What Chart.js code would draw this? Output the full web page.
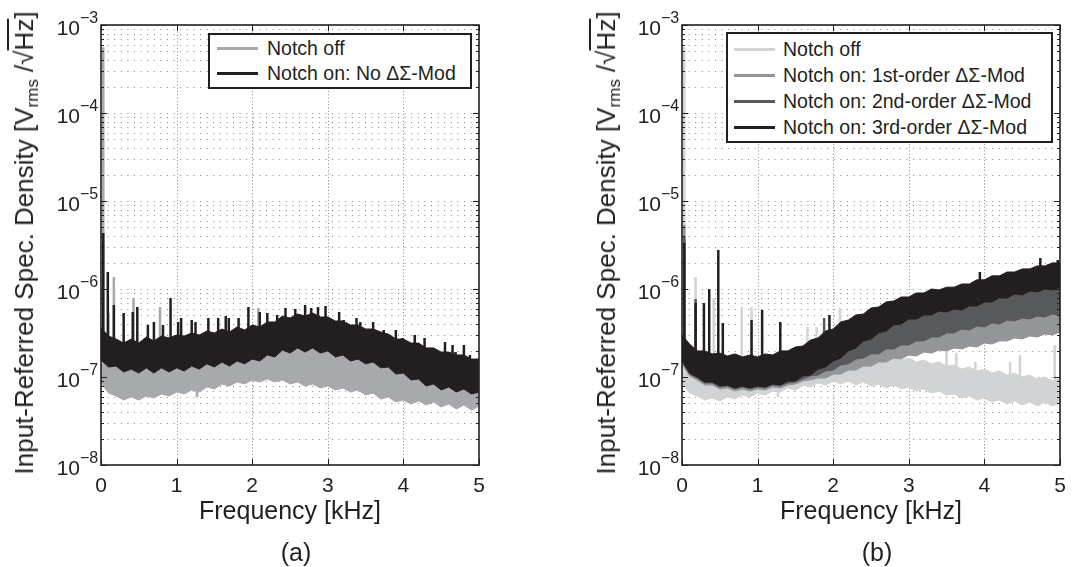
<!DOCTYPE html>
<html>
<head>
<meta charset="utf-8">
<script src="https://cdn.jsdelivr.net/npm/chart.js@4"></script>
<style>
  body { margin: 0; background: #fff; }
  #wrap { position: relative; width: 1088px; height: 567px; overflow: hidden;
          font-family: "Liberation Sans", Arial, Helvetica, sans-serif; color: #231f20; }
  canvas { position: absolute; top: 0; }
  .ylab { position: absolute; white-space: nowrap; font-size: 26px; line-height: 1;
          transform: translate(-50%, -50%) rotate(-90deg); }
  .ylab sub { font-size: 17px; vertical-align: -5px; }
  .ylab .rt { text-decoration: overline; }
  .xlab { position: absolute; white-space: nowrap; font-size: 25px; line-height: 1;
          transform: translate(-50%, -50%); }
  .legend { position: absolute; box-sizing: border-box; border: 2px solid #231f20; background: #fff; }
  .row { position: absolute; left: 0; right: 0; height: 24px; margin-top: -12px;
         display: flex; align-items: center; font-size: 19.5px; white-space: nowrap; }
  .sw { display: inline-block; width: 41px; height: 3px; }
</style>
</head>
<body>
<div id="wrap">
  <canvas id="chartA" width="544" height="567" style="left:0"></canvas>
  <canvas id="chartB" width="544" height="567" style="left:544px"></canvas>

  <div class="ylab" style="left:26px;top:243px">Input-Referred Spec. Density [V<sub>rms</sub> /√<span class="rt">Hz</span>]</div>
  <div class="ylab" style="left:608px;top:243px">Input-Referred Spec. Density [V<sub>rms</sub> /√<span class="rt">Hz</span>]</div>
  <div class="xlab" style="left:290px;top:510px">Frequency [kHz]</div>
  <div class="xlab" style="left:871px;top:510px">Frequency [kHz]</div>
  <div class="xlab" style="left:296px;top:552px">(a)</div>
  <div class="xlab" style="left:877px;top:552px">(b)</div>

  <div class="legend" style="left:208px;top:33px;width:264px;height:56px">
    <div class="row" style="top:13px"><span class="sw" style="margin-left:7px;background:#a7a9ac"></span><span style="margin-left:9px">Notch off</span></div>
    <div class="row" style="top:38px"><span class="sw" style="margin-left:7px;background:#231f20"></span><span style="margin-left:9px">Notch on: No ΔΣ-Mod</span></div>
  </div>
  <div class="legend" style="left:726px;top:32px;width:327px;height:111px">
    <div class="row" style="top:15px"><span class="sw" style="margin-left:6px;background:#d1d3d4"></span><span style="margin-left:8px">Notch off</span></div>
    <div class="row" style="top:41px"><span class="sw" style="margin-left:6px;background:#939598"></span><span style="margin-left:8px">Notch on: 1st-order ΔΣ-Mod</span></div>
    <div class="row" style="top:67px"><span class="sw" style="margin-left:6px;background:#58595b"></span><span style="margin-left:8px">Notch on: 2nd-order ΔΣ-Mod</span></div>
    <div class="row" style="top:93px"><span class="sw" style="margin-left:6px;background:#231f20"></span><span style="margin-left:8px">Notch on: 3rd-order ΔΣ-Mod</span></div>
  </div>
</div>
<script>
// frequency grid of the envelopes [kHz]
const freq = [0,0.1,0.2,0.3,0.4,0.5,0.6,0.7,0.8,0.9,1,1.1,1.2,1.3,1.4,1.5,1.6,1.7,1.8,1.9,2,2.1,2.2,2.3,2.4,2.5,2.6,2.7,2.8,2.9,3,3.1,3.2,3.3,3.4,3.5,3.6,3.7,3.8,3.9,4,4.1,4.2,4.3,4.4,4.5,4.6,4.7,4.8,4.9,5];

const xTicks = [0, 1, 2, 3, 4, 5];
const yDecades = [1e-8, 1e-7, 1e-6, 1e-5, 1e-4, 1e-3];
const yExponents = ['\u22128', '\u22127', '\u22126', '\u22125', '\u22124', '\u22123'];
const minorSteps = [2, 3, 4, 5, 6, 7, 8, 9];

// (a) noise band envelopes, V/sqrt(Hz)
const notchOnUpperA = [3.61e-7,2.92e-7,2.70e-7,2.43e-7,2.70e-7,2.43e-7,2.85e-7,2.57e-7,2.92e-7,2.78e-7, 3.00e-7,2.92e-7,3.16e-7,3.00e-7,3.33e-7,3.16e-7,3.51e-7,3.25e-7,3.70e-7,3.42e-7, 3.90e-7,3.70e-7,4.22e-7,4.22e-7,4.93e-7,4.68e-7,5.20e-7,4.93e-7,5.34e-7,4.81e-7, 4.81e-7,4.33e-7,4.33e-7,3.90e-7,3.90e-7,3.51e-7,3.51e-7,3.25e-7,3.08e-7,2.70e-7, 2.70e-7,2.43e-7,2.43e-7,2.14e-7,2.14e-7,1.92e-7,1.92e-7,1.78e-7,1.78e-7,1.60e-7,1.60e-7];
const notchOnLowerA = [1.56e-7,1.30e-7,1.33e-7,1.14e-7,1.23e-7,1.11e-7,1.27e-7,1.11e-7,1.27e-7,1.14e-7, 1.27e-7,1.17e-7,1.33e-7,1.23e-7,1.41e-7,1.30e-7,1.48e-7,1.33e-7,1.52e-7,1.41e-7, 1.60e-7,1.52e-7,1.78e-7,1.69e-7,2.03e-7,1.87e-7,2.14e-7,1.92e-7,2.14e-7,1.87e-7, 1.98e-7,1.69e-7,1.78e-7,1.52e-7,1.60e-7,1.41e-7,1.48e-7,1.27e-7,1.30e-7,1.08e-7, 1.11e-7,9.25e-8,9.49e-8,7.90e-8,8.33e-8,7.12e-8,7.70e-8,6.75e-8,7.31e-8,6.41e-8,6.75e-8];
const notchOffUpperA = [1.92e-7,1.48e-7,1.33e-7,1.20e-7,1.30e-7,1.17e-7,1.33e-7,1.23e-7,1.37e-7,1.30e-7, 1.41e-7,1.37e-7,1.48e-7,1.44e-7,1.60e-7,1.56e-7,1.73e-7,1.69e-7,1.83e-7,1.78e-7, 1.92e-7,1.87e-7,1.98e-7,1.92e-7,2.19e-7,2.08e-7,2.25e-7,2.08e-7,2.25e-7,2.03e-7, 2.08e-7,1.83e-7,1.92e-7,1.69e-7,1.73e-7,1.56e-7,1.56e-7,1.41e-7,1.41e-7,1.23e-7, 1.20e-7,1.08e-7,1.08e-7,1.03e-7,1.03e-7,9.74e-8,9.74e-8,9.25e-8,9.49e-8,9.01e-8,9.25e-8];
const notchOffLowerA = [8.55e-8,6.58e-8,6.08e-8,5.48e-8,5.93e-8,5.48e-8,6.08e-8,5.77e-8,6.41e-8,6.08e-8, 6.75e-8,6.41e-8,7.12e-8,6.75e-8,7.70e-8,7.31e-8,8.33e-8,7.90e-8,8.77e-8,8.33e-8, 9.25e-8,8.77e-8,9.49e-8,8.77e-8,9.25e-8,8.33e-8,8.77e-8,7.90e-8,8.33e-8,7.50e-8, 7.90e-8,7.12e-8,7.50e-8,6.75e-8,7.12e-8,6.24e-8,6.58e-8,5.62e-8,5.93e-8,5.20e-8, 5.48e-8,4.93e-8,5.34e-8,4.81e-8,5.20e-8,4.56e-8,4.93e-8,4.33e-8,4.81e-8,4.22e-8,4.68e-8];

// (a) spectral lines
const offSpikeFA    = [0.03, 0.10, 0.17, 0.43, 0.78, 2.08, 1.27];
const offSpikeTopA  = [5.6e-4, 5.34e-7, 1.37e-6, 7.90e-7, 6.24e-7, 6.08e-7, 5.9e-8];
const offSpikeBaseA = [1.2e-7, 1.2e-7, 1.2e-7, 1.2e-7, 1.2e-7, 1.3e-7, 1.0e-7];
const onSpikeFA    = [0.03,0.09,0.17,0.30,0.42,0.48,0.62,0.70,0.82,0.92,1.02,1.06,1.20,1.25,1.42,1.55,1.65,1.69,1.82,1.95,2.10,2.20,2.33,2.44,2.57,2.70,2.78,2.87,2.97,3.15,3.21,3.38,3.43,3.60,3.74,3.90,3.99,4.15,4.28,4.36,4.55,4.65,4.69,4.80,4.88];
const onSpikeTopA  = [4.33e-6,1.56e-6,6.58e-7,5.34e-7,5.48e-7,6.24e-7,3.90e-7,4.22e-7,3.90e-7,7.90e-7,4.22e-7,4.68e-7,4.44e-7,4.22e-7,4.68e-7,4.68e-7,4.93e-7,4.68e-7,4.68e-7,6.24e-7,5.48e-7,5.34e-7,5.07e-7,6.08e-7,5.93e-7,6.58e-7,6.08e-7,6.24e-7,6.41e-7,5.48e-7,4.44e-7,4.68e-7,4.22e-7,4.22e-7,3.42e-7,3.42e-7,2.78e-7,3.00e-7,2.78e-7,2.14e-7,2.50e-7,2.31e-7,1.92e-7,2.31e-7,1.78e-7];
const onSpikeBaseA = [2.2e-7,2.2e-7,2.2e-7,2.2e-7,2.2e-7,2.2e-7,2.2e-7,2.2e-7,2.2e-7,2.2e-7,2.2e-7,2.2e-7,2.2e-7,2.2e-7,2.2e-7,2.2e-7,2.2e-7,2.2e-7,2.2e-7,2.2e-7,2.2e-7,3.0e-7,3.0e-7,3.0e-7,3.0e-7,3.0e-7,3.0e-7,3.0e-7,3.0e-7,3.0e-7,3.0e-7,3.0e-7,2.0e-7,2.0e-7,2.0e-7,2.0e-7,2.0e-7,2.0e-7,1.3e-7,1.3e-7,1.3e-7,1.3e-7,1.3e-7,1.3e-7,1.3e-7];

// (b) noise band envelopes
const order3Upper = [3.00e-7,2.37e-7,1.98e-7,1.98e-7,1.83e-7,1.87e-7,1.73e-7,1.83e-7,1.69e-7,1.78e-7, 1.69e-7,1.83e-7,1.78e-7,1.98e-7,1.98e-7,2.19e-7,2.25e-7,2.63e-7,2.78e-7,3.33e-7, 3.51e-7,4.22e-7,4.44e-7,5.07e-7,5.20e-7,6.08e-7,6.24e-7,7.12e-7,7.31e-7,8.11e-7, 8.11e-7,9.01e-7,9.01e-7,1.00e-6,9.74e-7,1.05e-6,1.05e-6,1.14e-6,1.14e-6,1.27e-6, 1.27e-6,1.41e-6,1.41e-6,1.56e-6,1.56e-6,1.69e-6,1.69e-6,1.83e-6,1.83e-6,1.98e-6,1.98e-6];
const order3Lower = [1.56e-7,1.11e-7,1.00e-7,8.77e-8,8.77e-8,7.90e-8,8.11e-8,7.50e-8,7.90e-8,7.50e-8, 7.90e-8,7.70e-8,8.33e-8,8.11e-8,9.01e-8,9.01e-8,1.03e-7,1.05e-7,1.23e-7,1.30e-7, 1.52e-7,1.64e-7,1.98e-7,2.14e-7,2.57e-7,2.70e-7,3.16e-7,3.33e-7,3.90e-7,4.00e-7, 4.56e-7,4.56e-7,5.07e-7,5.07e-7,5.62e-7,5.48e-7,5.93e-7,5.77e-7,6.41e-7,6.41e-7, 7.12e-7,7.12e-7,7.90e-7,7.90e-7,8.77e-7,8.55e-7,9.49e-7,9.25e-7,1.00e-6,9.74e-7,1.05e-6];
const order2Upper = [2.63e-7,2.03e-7,1.78e-7,1.69e-7,1.64e-7,1.64e-7,1.60e-7,1.60e-7,1.56e-7,1.56e-7, 1.56e-7,1.60e-7,1.64e-7,1.73e-7,1.78e-7,1.92e-7,2.03e-7,2.25e-7,2.43e-7,2.70e-7, 2.92e-7,3.33e-7,3.61e-7,4.00e-7,4.33e-7,4.68e-7,5.07e-7,5.48e-7,5.77e-7,6.08e-7, 6.41e-7,6.75e-7,7.12e-7,7.50e-7,7.70e-7,8.11e-7,8.33e-7,8.77e-7,9.01e-7,9.49e-7, 9.74e-7,1.03e-6,1.05e-6,1.11e-6,1.14e-6,1.20e-6,1.23e-6,1.27e-6,1.30e-6,1.37e-6,1.41e-6];
const order2Lower = [1.48e-7,1.08e-7,9.74e-8,8.55e-8,8.55e-8,7.70e-8,7.90e-8,7.31e-8,7.70e-8,7.31e-8, 7.70e-8,7.50e-8,8.11e-8,7.90e-8,8.55e-8,8.77e-8,9.49e-8,1.03e-7,1.05e-7,1.17e-7, 1.20e-7,1.37e-7,1.41e-7,1.60e-7,1.64e-7,1.83e-7,1.83e-7,2.08e-7,2.08e-7,2.31e-7, 2.31e-7,2.57e-7,2.57e-7,2.85e-7,2.85e-7,3.16e-7,3.16e-7,3.51e-7,3.42e-7,3.80e-7, 3.70e-7,4.11e-7,4.00e-7,4.44e-7,4.33e-7,4.68e-7,4.56e-7,4.93e-7,4.81e-7,5.20e-7,5.07e-7];
const order1Upper = [2.03e-7,1.56e-7,1.37e-7,1.30e-7,1.27e-7,1.27e-7,1.23e-7,1.23e-7,1.20e-7,1.20e-7, 1.20e-7,1.23e-7,1.27e-7,1.33e-7,1.37e-7,1.48e-7,1.56e-7,1.73e-7,1.87e-7,2.08e-7, 2.25e-7,2.57e-7,2.78e-7,3.08e-7,3.33e-7,3.61e-7,3.90e-7,4.22e-7,4.44e-7,4.68e-7, 4.93e-7,5.20e-7,5.48e-7,5.77e-7,5.93e-7,6.24e-7,6.41e-7,6.75e-7,6.93e-7,7.31e-7, 7.50e-7,7.90e-7,8.11e-7,8.55e-7,8.77e-7,9.25e-7,9.49e-7,9.74e-7,1.00e-6,1.05e-6,1.08e-6];
const order1Lower = [1.41e-7,1.03e-7,9.25e-8,8.11e-8,8.11e-8,7.31e-8,7.50e-8,6.93e-8,7.31e-8,6.93e-8, 7.31e-8,7.12e-8,7.70e-8,7.50e-8,8.11e-8,8.33e-8,9.01e-8,9.25e-8,9.74e-8,9.74e-8, 1.08e-7,1.08e-7,1.20e-7,1.20e-7,1.33e-7,1.33e-7,1.48e-7,1.48e-7,1.64e-7,1.60e-7, 1.78e-7,1.73e-7,1.92e-7,1.87e-7,2.03e-7,1.98e-7,2.14e-7,2.08e-7,2.25e-7,2.19e-7, 2.43e-7,2.37e-7,2.57e-7,2.57e-7,2.78e-7,2.70e-7,2.92e-7,2.85e-7,3.08e-7,3.00e-7,3.25e-7];
const notchOffUpperB = [1.92e-7,1.48e-7,1.30e-7,1.23e-7,1.27e-7,1.20e-7,1.30e-7,1.27e-7,1.37e-7,1.33e-7, 1.44e-7,1.41e-7,1.52e-7,1.52e-7,1.64e-7,1.60e-7,1.73e-7,1.69e-7,1.83e-7,1.78e-7, 1.92e-7,1.78e-7,1.92e-7,1.73e-7,1.87e-7,1.69e-7,1.78e-7,1.60e-7,1.73e-7,1.56e-7, 1.64e-7,1.48e-7,1.56e-7,1.41e-7,1.48e-7,1.33e-7,1.37e-7,1.23e-7,1.30e-7,1.17e-7, 1.23e-7,1.11e-7,1.17e-7,1.05e-7,1.11e-7,1.00e-7,1.05e-7,9.49e-8,1.00e-7,9.01e-8,9.74e-8];
const notchOffLowerB = [8.55e-8,6.58e-8,6.08e-8,5.48e-8,5.77e-8,5.34e-8,5.93e-8,5.62e-8,6.24e-8,5.93e-8, 6.58e-8,6.24e-8,6.93e-8,6.75e-8,7.50e-8,7.12e-8,8.11e-8,7.70e-8,8.55e-8,8.11e-8, 9.01e-8,8.33e-8,9.01e-8,8.11e-8,8.77e-8,7.90e-8,8.33e-8,7.50e-8,8.11e-8,7.31e-8, 7.70e-8,6.93e-8,7.31e-8,6.58e-8,6.93e-8,6.24e-8,6.41e-8,5.77e-8,6.08e-8,5.48e-8, 5.77e-8,5.20e-8,5.48e-8,4.93e-8,5.34e-8,4.81e-8,5.20e-8,4.68e-8,5.20e-8,4.68e-8,5.07e-8];

// (b) spectral lines
const offSpikeFB    = [0.03, 0.18, 0.42, 0.79, 0.92, 1.27, 1.66, 1.78, 2.09, 3.50, 3.63, 3.88, 4.34, 4.47, 4.93];
const offSpikeTopB  = [5.6e-4, 1.37e-6, 7.90e-7, 6.24e-7, 6.24e-7, 5.9e-8, 3.70e-7, 3.70e-7, 6.08e-7, 2.03e-7, 1.87e-7, 1.48e-7, 1.48e-7, 1.78e-7, 2.31e-7];
const offSpikeBaseB = [1.0e-7, 1.0e-7, 1.0e-7, 1.0e-7, 1.0e-7, 1.0e-7, 1.0e-7, 1.0e-7, 1.0e-7, 8.0e-8, 8.0e-8, 8.0e-8, 8.0e-8, 8.0e-8, 8.0e-8];
const o1SpikeF = [0.03], o1SpikeTop = [5.34e-6], o1SpikeBase = [1.5e-7];
const o2SpikeF = [0.03, 0.18, 1.88], o2SpikeTop = [3.90e-6, 7.70e-7, 4.68e-7], o2SpikeBase = [1.5e-7, 1.5e-7, 1.8e-7];
const o3SpikeF    = [0.03, 0.18, 0.29, 0.36, 0.48, 0.54, 0.92, 1.06, 1.30, 1.95, 3.94, 4.74, 4.97];
const o3SpikeTop  = [3.33e-6, 6.93e-7, 6.93e-7, 1.0e-6, 2.78e-6, 4.11e-7, 4.44e-7, 5.77e-7, 4.22e-7, 5.07e-7, 1.56e-6, 2.25e-6, 2.14e-6];
const o3SpikeBase = [1.5e-7, 1.5e-7, 1.5e-7, 1.5e-7, 1.5e-7, 1.5e-7, 1.5e-7, 1.5e-7, 1.5e-7, 1.5e-7, 1.0e-6, 1.4e-6, 1.4e-6];

const FONT = '"Liberation Sans", Arial, sans-serif';
const INK = '#231f20';

function pts(vals) {
  return freq.map((f, i) => ({ x: f, y: vals[i] }));
}

// upper envelope filled down to the lower one
function band(upper, lower, color, order) {
  return [
    { data: pts(upper), borderColor: color, backgroundColor: color, borderWidth: 1, fill: '+1', order },
    { data: pts(lower), borderColor: color, borderWidth: 1, fill: false, order }
  ];
}

// vertical lines, null breaks the path between them
function spikes(fs, tops, bases, color, order) {
  const data = [];
  fs.forEach((f, i) => {
    data.push({ x: f, y: bases[i] }, { x: f, y: tops[i] }, { x: f, y: null });
  });
  return { data, borderColor: color, borderWidth: 2.5, borderCapStyle: 'butt', fill: false, spanGaps: false, order };
}

// MATLAB-like box, dotted grid, inner ticks, 10^n labels
const axesPlugin = {
  id: 'axesBox',
  beforeDatasetsDraw(chart) {
    const { ctx, chartArea: a, scales: { x, y } } = chart;
    ctx.save();
    ctx.strokeStyle = '#858585';
    ctx.lineWidth = 1;
    ctx.setLineDash([1, 5.6]);
    ctx.beginPath();
    yDecades.slice(0, -1).forEach(d => {
      [1].concat(minorSteps).forEach(m => {
        if (m === 1 && d === yDecades[0]) return;
        const py = Math.round(y.getPixelForValue(m * d)) + 0.5;
        ctx.moveTo(a.left, py); ctx.lineTo(a.right, py);
      });
    });
    ctx.stroke();
    ctx.setLineDash([1, 2.3]);
    ctx.beginPath();
    xTicks.slice(1, -1).forEach(t => {
      const px = Math.round(x.getPixelForValue(t)) + 0.5;
      ctx.moveTo(px, a.top); ctx.lineTo(px, a.bottom);
    });
    ctx.stroke();
    ctx.restore();
  },
  afterDatasetsDraw(chart) {
    const { ctx, chartArea: a, scales: { x, y } } = chart;
    ctx.save();
    ctx.strokeStyle = INK;
    ctx.lineWidth = 1;
    ctx.beginPath();
    yDecades.forEach((d, i) => {
      const py = Math.round(y.getPixelForValue(d)) + 0.5;
      ctx.moveTo(a.left, py); ctx.lineTo(a.left + 6, py);
      ctx.moveTo(a.right, py); ctx.lineTo(a.right - 6, py);
      if (i === yDecades.length - 1) return;
      minorSteps.forEach(m => {
        const pm = Math.round(y.getPixelForValue(m * d)) + 0.5;
        ctx.moveTo(a.left, pm); ctx.lineTo(a.left + 3, pm);
        ctx.moveTo(a.right, pm); ctx.lineTo(a.right - 3, pm);
      });
    });
    xTicks.forEach(t => {
      const px = Math.round(x.getPixelForValue(t)) + 0.5;
      ctx.moveTo(px, a.bottom); ctx.lineTo(px, a.bottom - 6);
      ctx.moveTo(px, a.top); ctx.lineTo(px, a.top + 6);
    });
    ctx.stroke();
    ctx.lineWidth = 1.6;
    ctx.strokeRect(a.left, a.top, a.right - a.left, a.bottom - a.top);

    ctx.fillStyle = INK;
    ctx.font = '21px ' + FONT;
    ctx.textAlign = 'center';
    ctx.textBaseline = 'alphabetic';
    xTicks.forEach(t => ctx.fillText(String(t), x.getPixelForValue(t), a.bottom + 27));
    yDecades.forEach((d, i) => {
      const py = y.getPixelForValue(d);
      ctx.font = '21px ' + FONT;
      ctx.textAlign = 'right';
      ctx.fillText('10', a.left - 21, py + 10);
      ctx.font = '16px ' + FONT;
      ctx.textAlign = 'left';
      ctx.fillText(yExponents[i], a.left - 21, py - 2);
    });
    ctx.restore();
  }
};

function makeChart(id, pad, datasets) {
  return new Chart(document.getElementById(id), {
    type: 'line',
    data: { datasets },
    options: {
      responsive: false,
      animation: false,
      devicePixelRatio: 1,
      events: [],
      layout: { padding: pad },
      elements: { point: { radius: 0 }, line: { tension: 0 } },
      plugins: { legend: { display: false }, tooltip: { enabled: false } },
      scales: {
        x: { type: 'linear', min: 0, max: 5, display: false },
        y: { type: 'logarithmic', min: 1e-8, max: 1e-3, display: false }
      }
    },
    plugins: [axesPlugin]
  });
}

// (a)
makeChart('chartA', { left: 101, right: 65, top: 25, bottom: 102 }, [
  spikes(onSpikeFA, onSpikeTopA, onSpikeBaseA, INK, 0),
  ...band(notchOnUpperA, notchOnLowerA, INK, 1),
  ...band(notchOffUpperA, notchOffLowerA, '#a7a9ac', 2),
  spikes(offSpikeFA, offSpikeTopA, offSpikeBaseA, '#a7a9ac', 3)
]);

// (b)
makeChart('chartB', { left: 138, right: 28, top: 25, bottom: 102 }, [
  spikes(o3SpikeF, o3SpikeTop, o3SpikeBase, INK, 0),
  ...band(order3Upper, order3Lower, INK, 1),
  spikes(o2SpikeF, o2SpikeTop, o2SpikeBase, '#58595b', 1.5),
  ...band(order2Upper, order2Lower, '#58595b', 2),
  spikes(o1SpikeF, o1SpikeTop, o1SpikeBase, '#939598', 2.5),
  ...band(order1Upper, order1Lower, '#939598', 3),
  ...band(notchOffUpperB, notchOffLowerB, '#d1d3d4', 4),
  spikes(offSpikeFB, offSpikeTopB, offSpikeBaseB, '#d1d3d4', 5)
]);
</script>
</body>
</html>
